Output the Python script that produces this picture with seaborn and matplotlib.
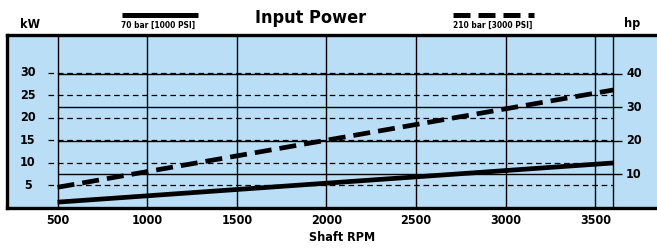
import matplotlib
matplotlib.use("Agg")
import matplotlib.pyplot as plt
import seaborn as sns
import pandas as pd
from matplotlib.lines import Line2D

# data
rpm = [500, 3600]
kw_70bar = [1.3, 10.0]
kw_210bar = [4.6, 26.2]
rpm_ticks = [500, 1000, 1500, 2000, 2500, 3000, 3500]
rpm_grid = [500, 1000, 1500, 2000, 2500, 3000, 3500, 3600]
kw_ticks = [5, 10, 15, 20, 25, 30]
hp_ticks = [10, 20, 30, 40]
KW_PER_HP = 0.7457

sns.set_style("white")
plt.rcParams['font.family'] = ['DejaVu Sans']
plt.rcParams['font.stretch'] = 'condensed'
plt.rcParams['font.weight'] = 'bold'
plt.rcParams['text.color'] = 'black'
plt.rcParams['xtick.color'] = 'black'
plt.rcParams['axes.labelcolor'] = 'black'

BLUE = "#B9DEF6"
fig = plt.figure(figsize=(6.57, 2.48), dpi=100)
W, H = 657, 248
ax = fig.add_axes([7 / W, 40 / H, 670 / W, 173 / H])
ax.set_facecolor(BLUE)
ax.set_xlim(218, 3955)
ax.set_ylim(0, 38.4)

for s in ['top', 'left', 'bottom']:
    ax.spines[s].set_linewidth(2.4)
    ax.spines[s].set_color('black')
ax.spines['right'].set_visible(False)

# grid: rpm verticals, dashed kW lines, solid hp lines
for r in rpm_grid:
    ax.axvline(r, color='black', lw=1.0, zorder=1)
ax.hlines(kw_ticks, 445, 3600, colors='black', lw=0.9, linestyles=(0, (4.5, 3)), zorder=1)
ax.hlines([h * KW_PER_HP for h in hp_ticks], 500, 3650, colors='black', lw=1.0, zorder=1)

df = pd.DataFrame({'rpm': rpm, 'kw70': kw_70bar, 'kw210': kw_210bar})
sns.lineplot(data=df, x='rpm', y='kw70', ax=ax, color='black', lw=3.4,
             solid_capstyle='butt', zorder=3)
sns.lineplot(data=df, x='rpm', y='kw210', ax=ax, color='black', lw=3.4,
             linestyle=(0, (3.6, 1.7)), dash_capstyle='butt', zorder=3)

# axis labels
ax.set_xticks(rpm_ticks)
ax.set_xticklabels([str(t) for t in rpm_ticks], fontsize=9, fontweight='bold')
ax.tick_params(axis='x', length=0, pad=4)
ax.set_yticks([])
ax.set_xlabel('Shaft RPM', fontsize=9, fontweight='bold', labelpad=3)
ax.set_ylabel('')

for k in kw_ticks:
    ax.text(335, k, str(k), ha='center', va='center', fontsize=9, fontweight='bold')
for h in hp_ticks:
    ax.text(3715, h * KW_PER_HP, str(h), ha='center', va='center', fontsize=9, fontweight='bold')

# header texts
fig.text(311 / W, 1 - 18 / H, 'Input Power', ha='center', va='center', fontsize=13, fontweight='bold')
fig.text(30 / W, 1 - 24 / H, 'kW', ha='center', va='center', fontsize=9, fontweight='bold')
fig.text(632 / W, 1 - 24 / H, 'hp', ha='center', va='center', fontsize=9, fontweight='bold')

fig.add_artist(Line2D([122 / W, 198 / W], [1 - 15 / H, 1 - 15 / H], color='black', lw=3.6,
                      solid_capstyle='butt', transform=fig.transFigure))
fig.text(158 / W, 1 - 25 / H, '70 bar [1000 PSI]', ha='center', va='center', fontsize=6, fontweight='bold')
fig.add_artist(Line2D([453 / W, 534 / W], [1 - 15 / H, 1 - 15 / H], color='black', lw=3.6,
                      linestyle=(0, (3.4, 1.6)), dash_capstyle='butt', transform=fig.transFigure))
fig.text(493 / W, 1 - 25 / H, '210 bar [3000 PSI]', ha='center', va='center', fontsize=6, fontweight='bold')

fig.savefig('out.png', dpi=100)
